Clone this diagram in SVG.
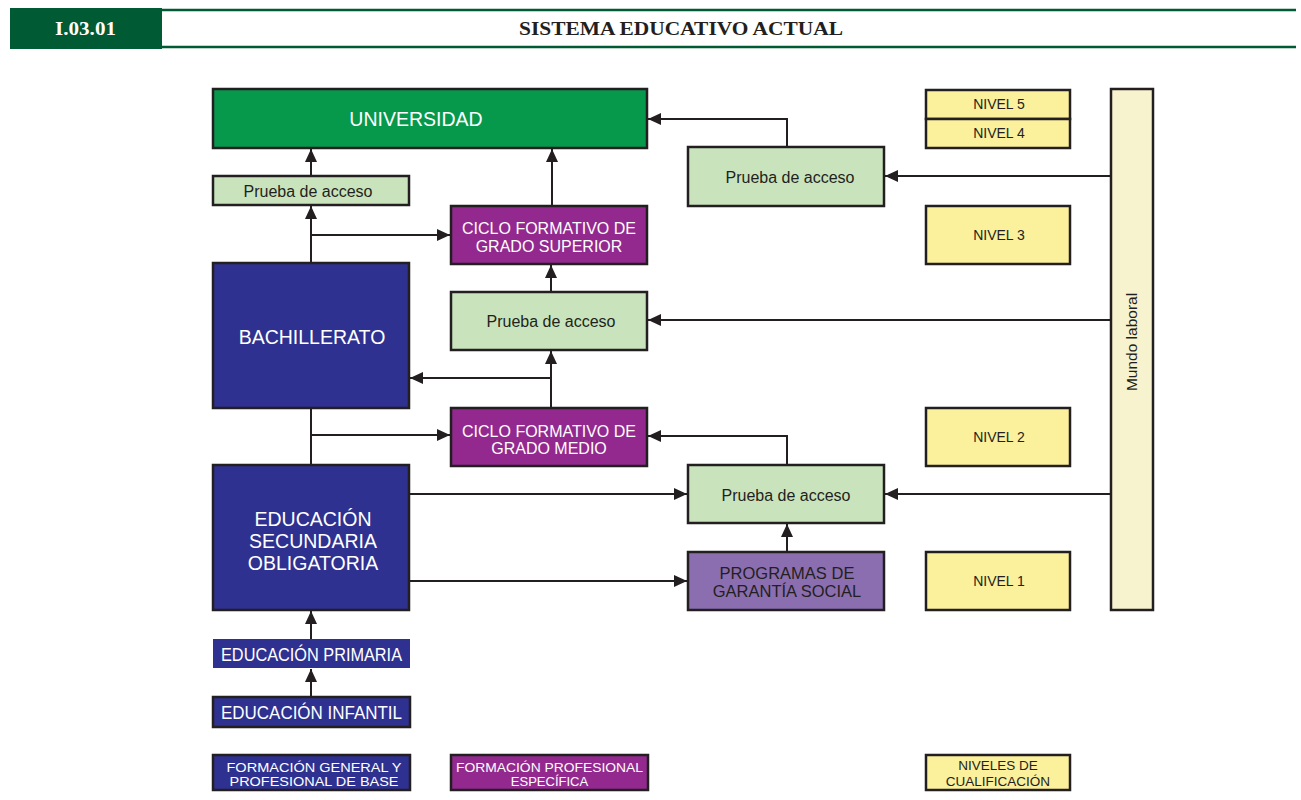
<svg xmlns="http://www.w3.org/2000/svg" width="1301" height="800" viewBox="0 0 1301 800">
<style>
.b{stroke:#231f20;stroke-width:2.5}
.uni{fill:#06984b}
.pr{fill:#c9e4bc}
.cf{fill:#93298e}
.bl{fill:#2e3190}
.pg{fill:#8b6eb0}
.nv{fill:#fbf09b}
.mu{fill:#f8f3cf}
text{font-family:"Liberation Sans",Arial,sans-serif;text-anchor:middle}
.w{fill:#ffffff}
.d{fill:#231f20}
.c{fill:none;stroke:#231f20;stroke-width:2}
.hd{font-family:"Liberation Serif","Times New Roman",serif;font-weight:bold;font-size:19px}
</style>
<defs>
<marker id="ah" markerWidth="13" markerHeight="12" refX="13" refY="6" orient="auto" markerUnits="userSpaceOnUse"><path d="M0,0 L13,6 L0,12 z" fill="#231f20"/></marker>
</defs>
<rect width="1301" height="800" fill="#ffffff"/>
<g id="header">
<line x1="161" y1="10" x2="1296" y2="10" stroke="#005a33" stroke-width="2.5"/>
<line x1="161" y1="47" x2="1296" y2="47" stroke="#005a33" stroke-width="2.5"/>
<rect x="10" y="8" width="152" height="41" fill="#005a33"/>
<text class="hd w" x="85.5" y="35" textLength="61" lengthAdjust="spacingAndGlyphs">I.03.01</text>
<text class="hd d" x="681" y="35" textLength="324" lengthAdjust="spacingAndGlyphs">SISTEMA EDUCATIVO ACTUAL</text>
</g>
<g id="universidad"><rect class="b uni" x="213" y="89" width="434" height="59"/><text class="w" x="416" y="126" font-size="19.5">UNIVERSIDAD</text></g>
<g id="prueba1"><rect class="b pr" x="213" y="176" width="196" height="29"/><text class="d" x="308" y="196.5" font-size="16">Prueba de acceso</text></g>
<g id="cfgs"><rect class="b cf" x="451" y="206" width="196" height="58"/><text class="w" x="549" y="234" font-size="16">CICLO FORMATIVO DE</text><text class="w" x="549" y="252" font-size="16">GRADO SUPERIOR</text></g>
<g id="prueba2"><rect class="b pr" x="688" y="147" width="196" height="59"/><text class="d" x="790" y="182.5" font-size="16">Prueba de acceso</text></g>
<g id="bachillerato"><rect class="b bl" x="213" y="263" width="196" height="145"/><text class="w" x="312" y="344" font-size="19.5">BACHILLERATO</text></g>
<g id="prueba3"><rect class="b pr" x="451" y="292" width="196" height="58"/><text class="d" x="551" y="326.5" font-size="16">Prueba de acceso</text></g>
<g id="cfgm"><rect class="b cf" x="451" y="408" width="196" height="58"/><text class="w" x="549" y="437" font-size="16">CICLO FORMATIVO DE</text><text class="w" x="549" y="454" font-size="16">GRADO MEDIO</text></g>
<g id="prueba4"><rect class="b pr" x="688" y="465" width="196" height="58"/><text class="d" x="786" y="500.5" font-size="16">Prueba de acceso</text></g>
<g id="eso"><rect class="b bl" x="213" y="465" width="196" height="145"/><text class="w" x="313" y="526" font-size="19.5">EDUCACIÓN</text><text class="w" x="313" y="548" font-size="19.5">SECUNDARIA</text><text class="w" x="313" y="570" font-size="19.5">OBLIGATORIA</text></g>
<g id="pgs"><rect class="b pg" x="688" y="552" width="196" height="58"/><text class="d" x="787" y="579" font-size="16.5">PROGRAMAS DE</text><text class="d" x="787" y="597" font-size="16.5">GARANTÍA SOCIAL</text></g>
<g id="primaria"><rect class="bl" x="213" y="639" width="197" height="29"/><text class="w" x="311.5" y="661" font-size="18.5" textLength="181" lengthAdjust="spacingAndGlyphs">EDUCACIÓN PRIMARIA</text></g>
<g id="infantil"><rect class="b bl" x="213" y="697" width="197" height="30"/><text class="w" x="311.5" y="719" font-size="18.5" textLength="181" lengthAdjust="spacingAndGlyphs">EDUCACIÓN INFANTIL</text></g>
<g id="nivel5"><rect class="b nv" x="926" y="90" width="144" height="29"/><text class="d" x="999" y="109" font-size="14">NIVEL 5</text></g>
<g id="nivel4"><rect class="b nv" x="926" y="119" width="144" height="29"/><text class="d" x="999" y="138" font-size="14">NIVEL 4</text></g>
<g id="nivel3"><rect class="b nv" x="926" y="206" width="144" height="58"/><text class="d" x="999" y="239.5" font-size="14">NIVEL 3</text></g>
<g id="nivel2"><rect class="b nv" x="926" y="408" width="144" height="58"/><text class="d" x="999" y="441.5" font-size="14">NIVEL 2</text></g>
<g id="nivel1"><rect class="b nv" x="926" y="552" width="144" height="58"/><text class="d" x="999" y="586" font-size="14">NIVEL 1</text></g>
<g id="mundo"><rect class="b mu" x="1111" y="89" width="42" height="521"/><text class="d" font-size="15.5" transform="translate(1137,342) rotate(-90)">Mundo laboral</text></g>
<g id="leg1"><rect class="b bl" x="213" y="755" width="197" height="35"/><text class="w" x="314" y="771.5" font-size="13" textLength="175" lengthAdjust="spacingAndGlyphs">FORMACIÓN GENERAL Y</text><text class="w" x="314" y="785.5" font-size="13" textLength="169" lengthAdjust="spacingAndGlyphs">PROFESIONAL DE BASE</text></g>
<g id="leg2"><rect class="b cf" x="451" y="755" width="197" height="35"/><text class="w" x="549.5" y="771.5" font-size="13" textLength="187" lengthAdjust="spacingAndGlyphs">FORMACIÓN PROFESIONAL</text><text class="w" x="549.5" y="785.5" font-size="13">ESPECÍFICA</text></g>
<g id="leg3"><rect class="b nv" x="926" y="755" width="144" height="35"/><text class="d" x="998" y="770" font-size="13.5">NIVELES DE</text><text class="d" x="998" y="786" font-size="13.5">CUALIFICACIÓN</text></g>
<g id="connectors">
<path class="c" d="M311,176 V149" marker-end="url(#ah)"/>
<path class="c" d="M311,263 V206" marker-end="url(#ah)"/>
<path class="c" d="M311,235 H450" marker-end="url(#ah)"/>
<path class="c" d="M552,206 V149" marker-end="url(#ah)"/>
<path class="c" d="M787,147 V119 H648" marker-end="url(#ah)"/>
<path class="c" d="M1111,176 H885" marker-end="url(#ah)"/>
<path class="c" d="M551,292 V265" marker-end="url(#ah)"/>
<path class="c" d="M1111,320 H648" marker-end="url(#ah)"/>
<path class="c" d="M551,408 V351" marker-end="url(#ah)"/>
<path class="c" d="M551,378 H410" stroke-width="3" marker-end="url(#ah)"/>
<path class="c" d="M311,408 V465"/>
<path class="c" d="M311,435 H450" marker-end="url(#ah)"/>
<path class="c" d="M787,465 V436 H648" marker-end="url(#ah)"/>
<path class="c" d="M1111,494 H885" marker-end="url(#ah)"/>
<path class="c" d="M410,494 H687" marker-end="url(#ah)"/>
<path class="c" d="M410,581 H687" marker-end="url(#ah)"/>
<path class="c" d="M787,552 V524" marker-end="url(#ah)"/>
<path class="c" d="M311,639 V611" marker-end="url(#ah)"/>
<path class="c" d="M311,697 V669" marker-end="url(#ah)"/>
</g>
</svg>
